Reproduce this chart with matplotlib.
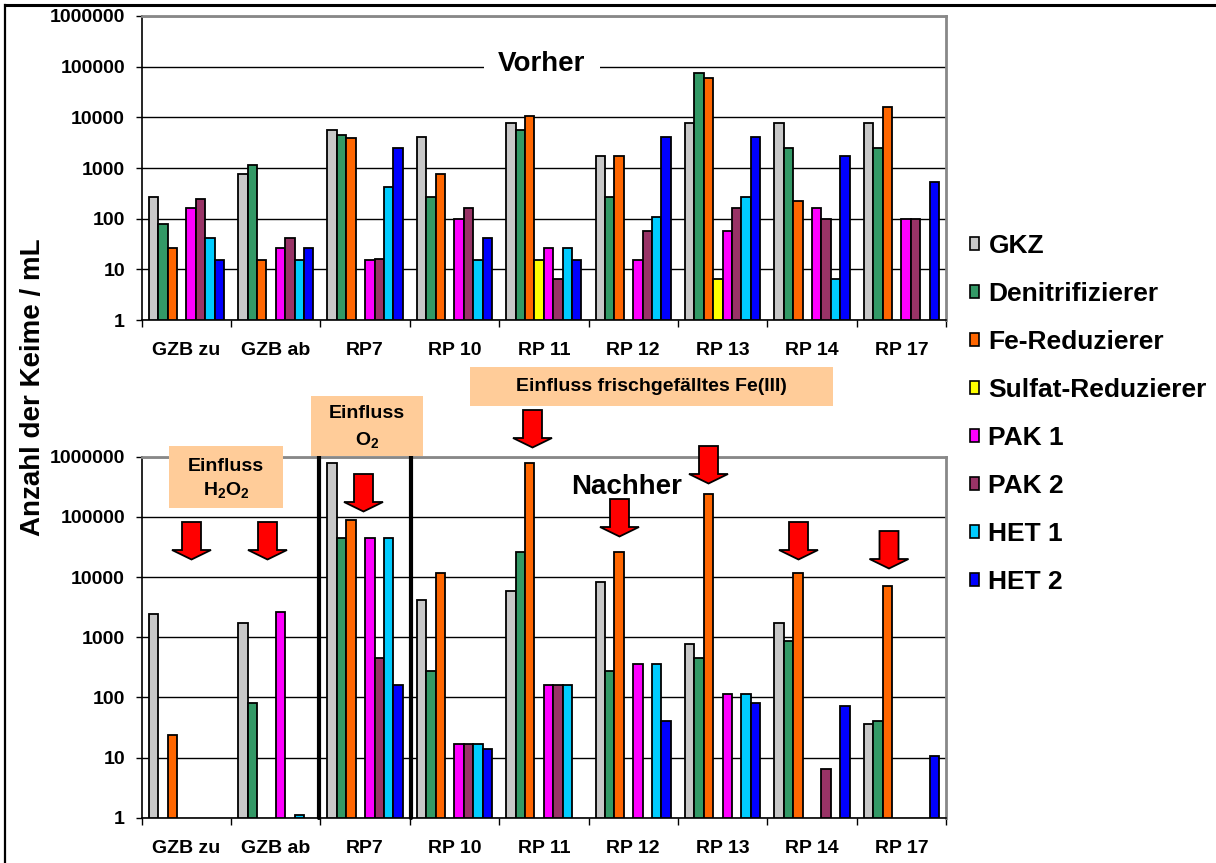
import numpy as np
import matplotlib
matplotlib.use("Agg")
import matplotlib.pyplot as plt
from matplotlib.patches import Rectangle, Polygon
from matplotlib.lines import Line2D
from matplotlib.ticker import FixedLocator, NullLocator

plt.rcParams['font.family'] = ['Liberation Sans', 'DejaVu Sans']
plt.rcParams['font.weight'] = 'bold'
plt.rcParams['mathtext.fontset'] = 'custom'
plt.rcParams['mathtext.rm'] = 'Liberation Sans:bold'
plt.rcParams['mathtext.it'] = 'Liberation Sans:bold'
plt.rcParams['mathtext.bf'] = 'Liberation Sans:bold'

nan = np.nan

# ---------------- data ----------------
categories = ["GZB zu", "GZB ab", "RP7", "RP 10", "RP 11", "RP 12", "RP 13", "RP 14", "RP 17"]
series_names = ["GKZ", "Denitrifizierer", "Fe-Reduzierer", "Sulfat-Reduzierer",
                "PAK 1", "PAK 2", "HET 1", "HET 2"]
series_colors = ["#C8C8C8", "#339966", "#FF6600", "#FFFF00",
                 "#FF00FF", "#993366", "#00CCFF", "#0000FF"]

# Vorher (before)
vorher_gkz = [265, 760, 5600, 4150, 7800, 1700, 7800, 7800, 7800]
vorher_denit = [78, 1150, 4500, 265, 5600, 265, 76000, 2500, 2500]
vorher_fe = [26, 15, 3860, 760, 10600, 1700, 59000, 223, 16200]
vorher_sulfat = [nan, nan, nan, nan, 15, nan, 6.4, nan, nan]
vorher_pak1 = [165, 26, 15, 100, 26, 15, 58, 165, 100]
vorher_pak2 = [244, 42, 16, 165, 6.4, 58, 165, 100, 100]
vorher_het1 = [41.5, 15, 430, 15, 26, 110, 265, 6.4, nan]
vorher_het2 = [15, 26, 2500, 42, 15, 4150, 4150, 1700, 540]

# Nachher (after)
nachher_gkz = [2400, 1700, 780000, 4150, 5850, 8150, 760, 1720, 36]
nachher_denit = [nan, 80, 44000, 275, 26000, 275, 445, 865, 41]
nachher_fe = [23.7, nan, 89000, 11500, 780000, 26000, 240000, 11500, 7180]
nachher_sulfat = [nan, nan, nan, nan, nan, nan, nan, nan, nan]
nachher_pak1 = [nan, 2600, 44000, 16.6, 158, 359, 114, nan, nan]
nachher_pak2 = [nan, nan, 445, 16.6, 158, nan, nan, 6.5, nan]
nachher_het1 = [nan, 1.1, 44000, 16.6, 158, 359, 114, nan, nan]
nachher_het2 = [nan, nan, 160, 13.9, nan, 41, 81, 72, 10.6]

ytick_values = [1, 10, 100, 1000, 10000, 100000, 1000000]
ytick_labels = ["1", "10", "100", "1000", "10000", "100000", "1000000"]

vorher = [vorher_gkz, vorher_denit, vorher_fe, vorher_sulfat,
          vorher_pak1, vorher_pak2, vorher_het1, vorher_het2]
nachher = [nachher_gkz, nachher_denit, nachher_fe, nachher_sulfat,
           nachher_pak1, nachher_pak2, nachher_het1, nachher_het2]

# ---------------- figure ----------------
W, H = 1216, 863
fig = plt.figure(figsize=(W / 100, H / 100), dpi=100)


def fx(px):
    return px / W


def fy(py):
    return 1 - py / H


LEFT, RIGHT = 141.7, 946
ax_top = fig.add_axes([fx(LEFT), fy(320), fx(RIGHT) - fx(LEFT), fy(16) - fy(320)])
ax_bot = fig.add_axes([fx(LEFT), fy(817.7), fx(RIGHT) - fx(LEFT), fy(456.7) - fy(817.7)])

x = np.arange(len(categories))
bw = 1 / 9.5


def draw_panel(ax, data):
    ax.set_yscale('log')
    for i, (vals, col) in enumerate(zip(data, series_colors)):
        v = np.asarray(vals, dtype=float)
        m = ~np.isnan(v)
        if m.any():
            ax.bar(x[m] + (i - 3.5) * bw, v[m] - 1, bottom=1, width=bw,
                   color=col, edgecolor='black', linewidth=1.3, zorder=3)
    ax.set_ylim(1, 1e6)
    ax.set_xlim(-0.5, len(categories) - 0.5)
    ax.yaxis.set_major_locator(FixedLocator(ytick_values))
    ax.yaxis.set_minor_locator(NullLocator())
    ax.set_yticklabels(ytick_labels, fontsize=14, fontweight='bold')
    ax.tick_params(axis='y', which='major', length=4, width=1, pad=8)
    ax.set_xticks(x)
    ax.set_xticklabels(categories, fontsize=14, fontweight='bold')
    ax.tick_params(axis='x', which='major', length=0, pad=16)
    ax.set_xticks(np.arange(-0.5, len(categories), 1), minor=True)
    ax.tick_params(axis='x', which='minor', length=5, width=1)
    ax.grid(axis='y', which='major', color='black', linewidth=1)
    ax.set_axisbelow(True)
    for s in ['left', 'bottom']:
        ax.spines[s].set_color('black')
        ax.spines[s].set_linewidth(1.2)
    for s in ['top', 'right']:
        ax.spines[s].set_color('#888888')
        ax.spines[s].set_linewidth(2)


draw_panel(ax_top, vorher)
draw_panel(ax_bot, nachher)

# y label
fig.text(fx(33), fy(387), "Anzahl der Keime / mL", rotation=90, ha='center', va='center',
         fontsize=20, fontweight='bold')

# panel titles
fig.text(fx(542), fy(64), "Vorher", ha='center', va='center', fontsize=20, fontweight='bold',
         bbox=dict(boxstyle='square,pad=0.5', fc='white', ec='none'), zorder=5)
fig.text(fx(627), fy(487), "Nachher", ha='center', va='center', fontsize=20, fontweight='bold',
         zorder=5)

# annotation boxes
box_col = '#FFCC99'


def fig_box(x0, y0, x1, y1):
    fig.patches.append(Rectangle((fx(x0), fy(y1)), fx(x1) - fx(x0), fy(y0) - fy(y1),
                                 transform=fig.transFigure, fc=box_col, ec='none', zorder=4))


fig_box(470, 367, 833, 406)
fig.text(fx(651.5), fy(386), "Einfluss frischgefälltes Fe(III)", ha='center', va='center',
         fontsize=14, fontweight='bold', zorder=6)
fig_box(169, 446, 283, 508)
fig.text(fx(226), fy(466), "Einfluss", ha='center', va='center', fontsize=14,
         fontweight='bold', zorder=6)
fig.text(fx(226), fy(490), "H$_2$O$_2$", ha='center', va='center', fontsize=14,
         fontweight='bold', zorder=6)
fig_box(311, 396, 423, 456)
fig.text(fx(367), fy(414), "Einfluss", ha='center', va='center', fontsize=14,
         fontweight='bold', zorder=6)
fig.text(fx(367), fy(440), "O$_2$", ha='center', va='center', fontsize=14,
         fontweight='bold', zorder=6)

# thick black separators in lower panel
for xs in (1.483, 2.51):
    ax_bot.add_line(Line2D([xs, xs], [1, 1.18e6], color='black', linewidth=3,
                           solid_capstyle='round', clip_on=False, zorder=7))


# red arrows
def red_arrow(cx, top):
    sw, hw, sh, hh = 9.5, 19.5, 28, 9.5
    pts = [(cx - sw, top), (cx + sw, top), (cx + sw, top + sh), (cx + hw, top + sh),
           (cx, top + sh + hh), (cx - hw, top + sh), (cx - sw, top + sh)]
    fig.patches.append(Polygon([(fx(a), fy(b)) for a, b in pts], closed=True,
                               transform=fig.transFigure, fc='#FF0000', ec='black',
                               linewidth=1.3, zorder=8))


for cx, top in [(191.5, 522), (267.5, 522), (363.5, 474), (532.5, 410), (619.5, 499),
                (708.5, 446), (798.5, 522), (889, 531)]:
    red_arrow(cx, top)

# legend
handles = [Rectangle((0, 0), 1, 1, facecolor=c, edgecolor='black', linewidth=1.2)
           for c in series_colors]
fig.legend(handles, series_names, loc='upper left', bbox_to_anchor=(fx(970), fy(234)),
           frameon=False, prop={'size': 19, 'weight': 'bold'}, handlelength=0.35,
           handleheight=0.35, handletextpad=0.35, labelspacing=0.91,
           borderaxespad=0, borderpad=0)

# outer frame lines (top and left)
fig.add_artist(Line2D([fx(5), 1], [fy(5), fy(5)], transform=fig.transFigure,
                      color='black', linewidth=2.2))
fig.add_artist(Line2D([fx(5), fx(5)], [fy(5), 0], transform=fig.transFigure,
                      color='black', linewidth=1.6))

fig.savefig("out.png", dpi=100)
